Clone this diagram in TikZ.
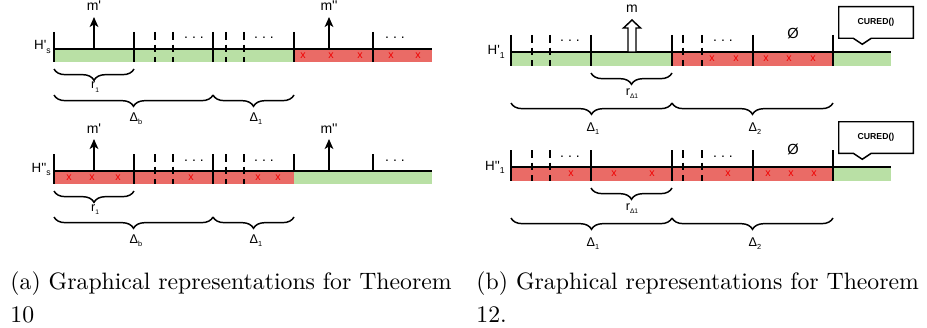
\documentclass[tikz,border=0pt]{standalone}
\usepackage{fontspec}
\usepackage{tikz}
\usetikzlibrary{arrows.meta,decorations.pathreplacing}
\newfontfamily\diafont{Liberation Sans}
\definecolor{okgreen}{HTML}{B9E0A5}
\definecolor{badred}{HTML}{EA6B66}
\definecolor{xred}{HTML}{F00000}
\newcommand{\lsub}[2]{\raisebox{-2.5pt}{\fontsize{#1}{#1}\selectfont #2}}
\newcommand{\gapdots}{.\hspace{3pt}.\hspace{3pt}.}

\tikzset{
  barline/.style={line width=1.5pt},
  fulltick/.style={line width=1.5pt},
  dashtick/.style={line width=1.5pt, dash pattern=on 5.8pt off 3.7pt},
  brc/.style={decorate, decoration={brace, mirror, amplitude=8.5pt}, line width=1.1pt},
  msg/.style={-{Stealth[length=7.5pt,width=6.5pt,inset=2pt]}, line width=1.1pt},
  blockarr/.style={line width=1.1pt, fill=white, line join=miter},
  callbox/.style={line width=1.1pt, fill=white, line join=miter},
  hlbl/.style={anchor=base east, inner sep=0pt, font=\diafont\fontsize{10}{12}\selectfont},
  mlbl/.style={anchor=base, inner sep=0pt, outer sep=4.5pt, font=\diafont\fontsize{10.5}{12}\selectfont},
  blbl/.style={anchor=base, inner sep=0pt, font=\diafont\fontsize{9.5}{11}\selectfont},
  dotlbl/.style={anchor=base, inner sep=0pt, font=\diafont\fontsize{10.5}{12}\selectfont},
  elbl/.style={anchor=base, inner sep=0pt, font=\diafont\fontsize{11}{12}\selectfont},
  xmark/.style={inner sep=0pt, text=xred, font=\diafont\fontsize{8}{8}\selectfont},
  cured/.style={minimum width=55.5pt, minimum height=23.25pt, inner sep=0pt,
    font=\diafont\bfseries\fontsize{6.5}{8}\selectfont},
  capt/.style={anchor=base west, align=left, inner sep=0pt, scale=1.78, font=\fontsize{10}{13.5}\selectfont}
}

\begin{document}
\begin{tikzpicture}[x=0.75pt, y=-0.75pt]
	\useasboundingbox (0,0) rectangle (927,328);

	% (a) H'_s
	\node[hlbl] (HsA) at (51,50) {H'\lsub{6.5}{s}};
	\fill[okgreen] (54,49) rectangle (294,62);
	\fill[badred] (294,49) rectangle (432,62);
	\draw[barline] (54,49) -- (432,49);
	\foreach \x in {54,134,213,294,373} \draw[fulltick] (\x,32) -- (\x,62);
	\foreach \x in {155,173,226,244} \draw[dashtick] (\x,32) -- (\x,62);
	\foreach \x in {194,264,395} \node[dotlbl] (dA\x) at (\x,39) {\gapdots};
	\foreach \x in {303,331,360,391,418} \node[xmark] (xA\x) at (\x,55.5) {x};
	\coordinate (qA1) at (94,49);
	\coordinate (qA2) at (329,49);
	\node[mlbl] (mA1) at (94,11) {m'};
	\node[mlbl] (mA2) at (329,11) {m''};
	\draw[msg] (qA1) -- (mA1);
	\draw[msg] (qA2) -- (mA2);
	\draw[brc] (54,69) -- (134,69);
	\draw[brc] (54,95) -- (213,95);
	\draw[brc] (213,95) -- (294,95);
	\node[blbl] (rA) at (95,89) {r\lsub{5}{1}};
	\node[blbl] (DbA) at (136,121) {Δ\lsub{5.5}{b}};
	\node[blbl] (D1A) at (256,121) {Δ\lsub{5.5}{1}};

	% (a) H''_s
	\begin{scope}[shift={(0,122)}]
		\node[hlbl] (HsB) at (51,50) {H''\lsub{6.5}{s}};
		\fill[badred] (54,49) rectangle (294,62);
		\fill[okgreen] (294,49) rectangle (432,62);
		\draw[barline] (54,49) -- (432,49);
		\foreach \x in {54,134,213} \draw[fulltick] (\x,32) -- (\x,62);
		\foreach \x in {294,373} \draw[fulltick] (\x,32) -- (\x,49);
		\foreach \x in {155,173,226,244} \draw[dashtick] (\x,32) -- (\x,62);
		\foreach \x in {194,264,395} \node[dotlbl] (dB\x) at (\x,39) {\gapdots};
		\foreach \x in {69,92,118,191,258,278} \node[xmark] (xB\x) at (\x,55.5) {x};
		\coordinate (qB1) at (94,49);
		\coordinate (qB2) at (329,49);
		\node[mlbl] (mB1) at (94,11) {m'};
		\node[mlbl] (mB2) at (329,11) {m''};
		\draw[msg] (qB1) -- (mB1);
		\draw[msg] (qB2) -- (mB2);
		\draw[brc] (54,69) -- (134,69);
		\draw[brc] (54,95) -- (213,95);
		\draw[brc] (213,95) -- (294,95);
		\node[blbl] (rB) at (95,89) {r\lsub{5}{1}};
		\node[blbl] (DbB) at (136,121) {Δ\lsub{5.5}{b}};
		\node[blbl] (D1B) at (256,121) {Δ\lsub{5.5}{1}};
	\end{scope}

	% (b) H'_1
	\node[hlbl] (H1C) at (505,55) {H'\lsub{6.5}{1}};
	\fill[okgreen] (511,52) rectangle (891,66);
	\fill[badred] (672,52) rectangle (833,66);
	\draw[barline] (511,52) -- (891,52);
	\foreach \x in {511,591,672,753,833} \draw[fulltick] (\x,35) -- (\x,66);
	\foreach \x in {532,550,683,702} \draw[dashtick] (\x,35) -- (\x,66);
	\foreach \x in {570,723} \node[dotlbl] (dC\x) at (\x,42) {\gapdots};
	\node[elbl] (eC) at (793,39) {Ø};
	\foreach \x in {712,736,766,789,813} \node[xmark] (xC\x) at (\x,59) {x};
	\coordinate (qC) at (632,52);
	\node[mlbl] (mC) at (632,13) {m};
	\draw[blockarr] (qC) ++(-4,0) -- ++(0,-24) -- ++(-4.5,0) -- ++(8.5,-8) -- ++(8.5,8) -- ++(-4.5,0) -- ++(0,24) -- cycle;
	\node[cured] (cC) at (876,22.5) {};
	\draw[callbox] (cC.north west) -- (cC.north east) -- (cC.south east) -- ++(-42,0) -- ++(-9,6) -- ++(-9,-6) -- (cC.south west) -- cycle;
	\node[cured] at (cC) {CURED()};
	\draw[brc] (591,73) -- (672,73);
	\draw[brc] (511,103) -- (672,103);
	\draw[brc] (672,103) -- (833,103);
	\node[blbl] (rC) at (632,95) {r\lsub{5}{Δ1}};
	\node[blbl] (D1C) at (593,131) {Δ\lsub{5.5}{1}};
	\node[blbl] (D2C) at (755,131) {Δ\lsub{5.5}{2}};

	% (b) H''_1
	\begin{scope}[shift={(0,115)}]
		\node[hlbl] (H1D) at (505,55) {H''\lsub{6.5}{1}};
		\fill[badred] (511,52) rectangle (833,66);
		\fill[okgreen] (833,52) rectangle (891,66);
		\draw[barline] (511,52) -- (891,52);
		\foreach \x in {511,591,672,753,833} \draw[fulltick] (\x,35) -- (\x,66);
		\foreach \x in {532,550,683,702} \draw[dashtick] (\x,35) -- (\x,66);
		\foreach \x in {570,723} \node[dotlbl] (dD\x) at (\x,42) {\gapdots};
		\node[elbl] (eD) at (793,39) {Ø};
		\foreach \x in {571,614,652,728,768,791,814} \node[xmark] (xD\x) at (\x,59) {x};
		\node[cured] (cD) at (876,22.5) {};
		\draw[callbox] (cD.north west) -- (cD.north east) -- (cD.south east) -- ++(-42,0) -- ++(-9,6) -- ++(-9,-6) -- (cD.south west) -- cycle;
		\node[cured] at (cD) {CURED()};
		\draw[brc] (591,73) -- (672,73);
		\draw[brc] (511,103) -- (672,103);
		\draw[brc] (672,103) -- (833,103);
		\node[blbl] (rD) at (632,95) {r\lsub{5}{Δ1}};
		\node[blbl] (D1D) at (593,131) {Δ\lsub{5.5}{1}};
		\node[blbl] (D2D) at (755,131) {Δ\lsub{5.5}{2}};
	\end{scope}

	% captions
	\node[capt] (capA) at (10,322) {(a) Graphical representations for Theorem\\10};
	\node[capt] (capB) at (476,322) {(b) Graphical representations for Theorem\\12.};
\end{tikzpicture}
\end{document}
